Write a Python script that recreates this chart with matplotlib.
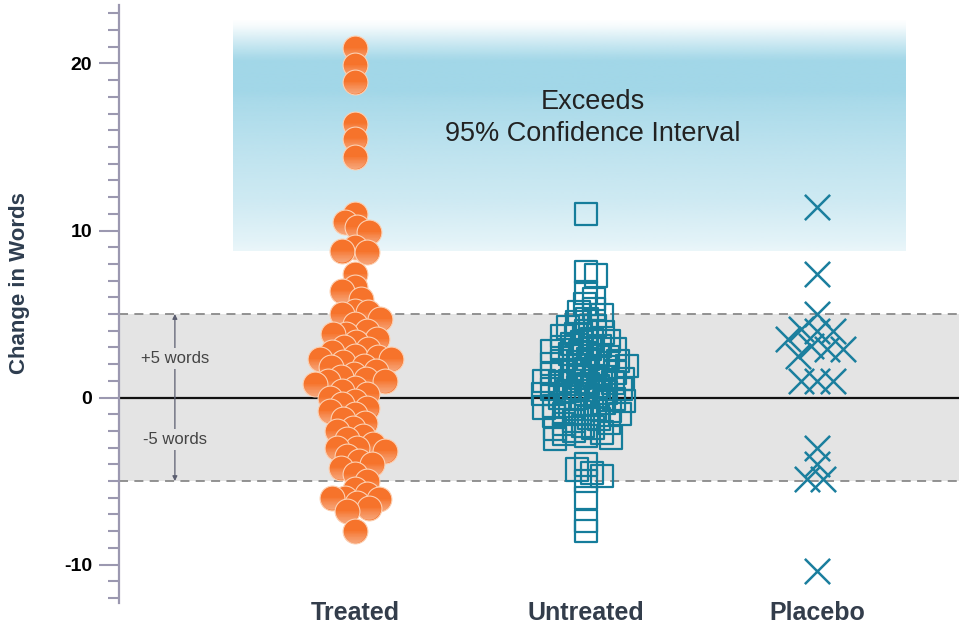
import numpy as np
import matplotlib
matplotlib.use("Agg")
import matplotlib.pyplot as plt
from matplotlib.ticker import MultipleLocator
from matplotlib.path import Path

plt.rcParams["axes.unicode_minus"] = False

# valores (cambio en palabras)
grupos = ["Treated", "Untreated", "Placebo"]

treated = [20.9, 19.9, 18.9, 16.4, 15.5, 14.4,
           11.0, 10.5, 10.2, 9.9, 9.0, 8.8, 8.7,
           7.4, 6.6, 6.4, 5.9, 5.2, 5.1, 5.0,
           4.7, 4.4, 4.0, 3.8, 3.8, 3.5, 3.3, 3.0, 2.9, 2.7, 2.5, 2.4, 2.3, 2.3,
           2.1, 1.9, 1.8, 1.6, 1.4, 1.2, 1.1, 1.0, 1.0, 0.8, 0.6, 0.4, 0.2, 0.0,
           -0.2, -0.4, -0.6, -0.8, -1.0, -1.3, -1.5, -1.8, -2.0, -2.3, -2.5,
           -2.8, -3.0, -3.0, -3.2, -3.5, -3.8, -4.0, -4.2, -4.6, -5.0, -5.5,
           -5.8, -6.0, -6.0, -6.1, -6.3, -6.6, -6.8, -8.0]

untreated = [11.0, 7.5, 7.3, 6.3,
             5.9, 5.6, 5.3, 5.1,
             4.9, 4.7, 4.5, 4.3, 4.2, 4.0,
             3.9, 3.8, 3.7, 3.5, 3.4, 3.3, 3.2, 3.1, 3.0,
             2.9, 2.9, 2.8, 2.7, 2.6, 2.5, 2.4, 2.3, 2.2, 2.2, 2.1, 2.0,
             1.9, 1.9, 1.8, 1.7, 1.6, 1.5, 1.5, 1.4, 1.3, 1.2, 1.2, 1.1, 1.0, 1.0,
             0.9, 0.9, 0.8, 0.7, 0.6, 0.5, 0.5, 0.4, 0.3, 0.2, 0.2, 0.1, 0.0, 0.0,
             -0.1, -0.2, -0.3, -0.4, -0.5, -0.5, -0.6, -0.7, -0.8, -0.9, -1.0, -1.0,
             -1.1, -1.2, -1.3, -1.4, -1.5, -1.6, -1.7, -1.8, -1.9, -2.0,
             -2.1, -2.2, -2.3, -2.4, -2.5,
             -4.0, -4.3, -4.5, -4.7, -5.0, -6.0, -7.4, -8.0]

placebo = [11.4, 7.4, 5.0, 4.0, 4.0, 4.1, 3.5, 3.1, 2.9, 2.9, 2.5,
           1.0, 1.0, 1.0, -3.0, -4.0, -4.9, -4.9, -10.4]

umbral = 5          # +/- 5 palabras
ic_inferior = 8.75  # limite inferior de la zona "Exceeds 95% CI"

W, H, DPI = 959, 630, 100
YMIN, YMAX = -12.3, 23.5
XMIN, XMAX = -0.022, 3.615
AX_L, AX_B, AX_T = 119 / W, 1 - 603 / H, 1 - 5 / H

fig = plt.figure(figsize=(W / DPI, H / DPI), dpi=DPI)
ax = fig.add_axes([AX_L, AX_B, 1 - AX_L, AX_T - AX_B])
ax.set_xlim(XMIN, XMAX)
ax.set_ylim(YMIN, YMAX)

px_x = (1 - AX_L) * W / (XMAX - XMIN)
px_y = (AX_T - AX_B) * H / (YMAX - YMIN)


def enjambre(valores, dist_min, paso=1.0):
    # desplazamientos horizontales tipo beeswarm (en unidades de datos)
    colocados = []
    offs = []
    for i, v in enumerate(valores):
        y = v * px_y
        k = 0
        elegido = None
        while elegido is None:
            if k == 0:
                cands = [0.0]
            elif i % 2:
                cands = [-k * paso, k * paso]
            else:
                cands = [k * paso, -k * paso]
            for c in cands:
                if all((c - px) ** 2 + (y - py) ** 2 >= dist_min ** 2
                       for px, py in colocados):
                    elegido = c
                    break
            k += 1
        colocados.append((elegido, y))
        offs.append(elegido / px_x)
    return np.array(offs)


def segmento_inferior(c):
    # parte del circulo unidad por debajo de la cuerda y = c (para el brillo)
    a0 = np.arcsin(c)
    ang = np.linspace(np.pi - a0, 2 * np.pi + a0, 40)
    verts = np.column_stack([np.cos(ang), np.sin(ang)])
    verts = np.vstack([verts, verts[:1]])
    codes = [Path.MOVETO] + [Path.LINETO] * (len(verts) - 2) + [Path.CLOSEPOLY]
    return Path(verts, codes)


# zona azul con degradado
perfil_y = [8.75, 9.3, 11.7, 14.7, 17.7, 18.3, 20.1, 20.4, 21.3, 22.2, 22.6]
perfil_a = [0.22, 0.3, 0.52, 0.7, 0.92, 1.0, 1.0, 0.9, 0.5, 0.1, 0.0]
ys = np.linspace(ic_inferior, 22.6, 300)
alfa = np.interp(ys, perfil_y, perfil_a)
img = np.zeros((len(ys), 1, 4))
img[:, 0, :3] = np.array([162, 215, 232]) / 255
img[:, 0, 3] = alfa
ax.imshow(img, extent=[0.47, 3.38, ic_inferior, 22.6], origin="lower",
          aspect="auto", zorder=0, interpolation="bilinear")
ax.text(2.03, 17.7, "Exceeds", ha="center", va="center", fontsize=19.5,
        color="#222222", family="Liberation Sans", zorder=1)
ax.text(2.03, 15.75, "95% Confidence Interval", ha="center", va="center",
        fontsize=19.5, color="#222222", family="Liberation Sans", zorder=1)

# banda gris +/- 5
ax.axhspan(-umbral, umbral, color="#e4e4e4", zorder=0.5, lw=0)
for yy in (-umbral, umbral):
    ax.axhline(yy, color="#8a8a8a", ls=(0, (5, 3.5)), lw=1.3, zorder=0.6)
ax.axhline(0, color="#111111", lw=1.6, zorder=0.7)

# flechas +5 / -5
xa = 0.22
for destino in (umbral, -umbral):
    ax.annotate("", xy=(xa, destino), xytext=(xa, 0),
                arrowprops=dict(arrowstyle="-|>", color="#5b5e70", lw=0.9,
                                mutation_scale=7, shrinkA=0, shrinkB=0),
                zorder=0.8)
caja = dict(facecolor="#e4e4e4", edgecolor="none", pad=2)
ax.text(xa, 2.35, "+5 words", ha="center", va="center", fontsize=12,
        color="#444444", family="Liberation Sans", bbox=caja, zorder=0.9)
ax.text(xa, -2.5, "-5 words", ha="center", va="center", fontsize=12,
        color="#444444", family="Liberation Sans", bbox=caja, zorder=0.9)

# Treated: circulos naranjas con brillo inferior suave, uno a uno por los solapes
xt = 1 + enjambre(treated, 13)
brillos = [segmento_inferior(c) for c in np.linspace(0.0, -0.85, 8)]
for j, (x, y) in enumerate(zip(xt, treated)):
    z = 3 + j * 0.01
    ax.scatter([x], [y], s=320, marker="o", facecolor="#f6732b",
               edgecolor="#fcd0b2", linewidth=0.8, zorder=z)
    for seg in brillos:
        ax.scatter([x], [y], s=300, marker=seg, facecolor="white",
                   edgecolor="none", alpha=0.055, zorder=z + 0.001)

ax.scatter(2 + enjambre(untreated, 10), untreated, s=260, marker="s",
           facecolor="none", edgecolor="#157d9b", linewidth=1.6, zorder=3)
ax.scatter(3 + enjambre(placebo, 16), placebo, s=330, marker="x",
           color="#1b7f9e", linewidth=1.8, zorder=3)

# ejes
for lado in ("top", "right", "bottom"):
    ax.spines[lado].set_visible(False)
ax.spines["left"].set_color("#9b98b0")
ax.spines["left"].set_linewidth(1.6)
ax.set_xticks([])
ax.set_yticks([-10, 0, 10, 20])
ax.yaxis.set_minor_locator(MultipleLocator(1))
ax.tick_params(axis="y", which="major", length=14.5, width=1.5,
               color="#9b98b0", pad=5, labelsize=14)
ax.tick_params(axis="y", which="minor", length=8, width=1.5, color="#9b98b0")
for lab in ax.get_yticklabels():
    lab.set_fontweight("bold")
    lab.set_family("Liberation Sans")

for i, g in enumerate(grupos):
    ax.text(i + 1, -12.9, g, ha="center", va="center", fontsize=18,
            fontweight="bold", color="#333d4b", family="Liberation Sans")

fig.text(20 / W, 1 - 283 / H, "Change in Words", rotation=90, ha="center",
         va="center", fontsize=16, fontweight="bold", color="#2e3d4f",
         family="Liberation Sans")

fig.savefig("out.png", dpi=DPI)
